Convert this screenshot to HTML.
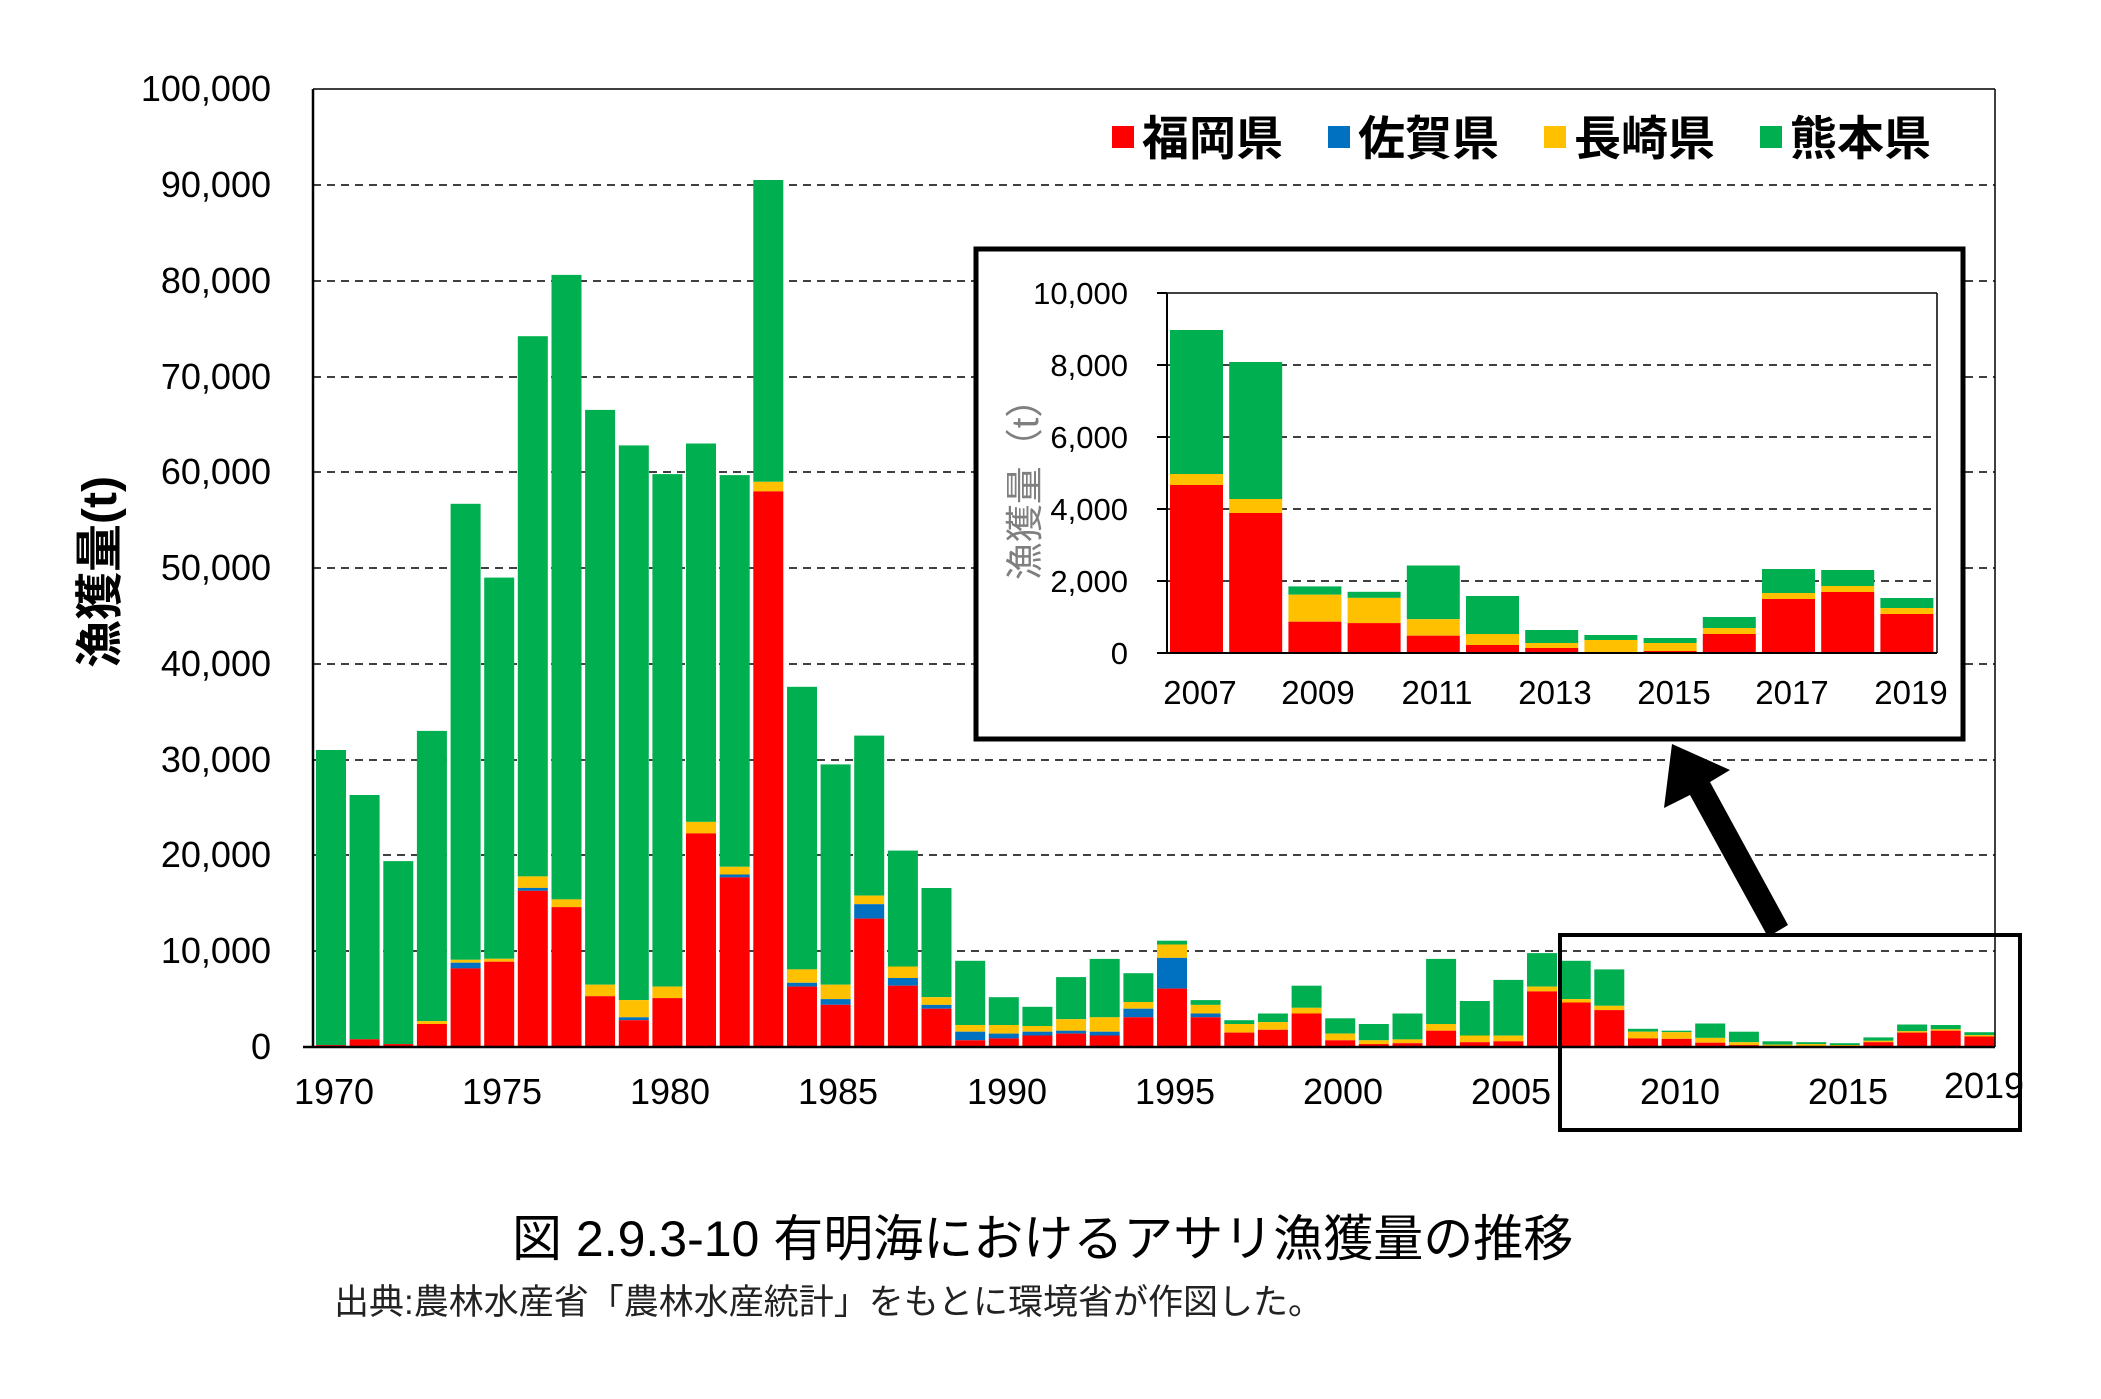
<!DOCTYPE html>
<html><head><meta charset="utf-8"><style>
html,body{margin:0;padding:0;background:#fff;}
svg{display:block;}
text{font-family:"Liberation Sans","Noto Sans CJK JP",sans-serif;fill:#000;}
.r{fill:#ff0000}.b{fill:#0070c0}.y{fill:#ffc000}.g{fill:#00b050}
</style></head><body>
<svg width="2101" height="1399" viewBox="0 0 2101 1399" xmlns="http://www.w3.org/2000/svg">
<rect width="2101" height="1399" fill="#fff"/>
<g stroke="#000" stroke-width="1.5" stroke-dasharray="8,6">
<line x1="313" x2="1995" y1="185" y2="185"/><line x1="313" x2="1995" y1="281" y2="281"/>
<line x1="313" x2="1995" y1="377" y2="377"/><line x1="313" x2="1995" y1="472" y2="472"/>
<line x1="313" x2="1995" y1="568" y2="568"/><line x1="313" x2="1995" y1="664" y2="664"/>
<line x1="313" x2="1995" y1="760" y2="760"/><line x1="313" x2="1995" y1="855" y2="855"/>
<line x1="313" x2="1995" y1="951" y2="951"/>
</g>
<g>
<rect class="g" x="316" y="750" width="30" height="295.1"/><rect class="r" x="316" y="1045.1" width="30" height="1.9"/>
<rect class="g" x="349.6" y="795" width="30" height="244.3"/><rect class="r" x="349.6" y="1039.3" width="30" height="7.7"/>
<rect class="g" x="383.3" y="861.1" width="30" height="183"/><rect class="r" x="383.3" y="1044.1" width="30" height="2.9"/>
<rect class="g" x="416.9" y="730.9" width="30" height="290.2"/><rect class="y" x="416.9" y="1021.1" width="30" height="2.9"/><rect class="r" x="416.9" y="1024" width="30" height="23"/>
<rect class="g" x="450.6" y="503.8" width="30" height="456"/><rect class="y" x="450.6" y="959.8" width="30" height="2.9"/><rect class="b" x="450.6" y="962.7" width="30" height="5.7"/><rect class="r" x="450.6" y="968.4" width="30" height="78.6"/>
<rect class="g" x="484.2" y="577.6" width="30" height="381.2"/><rect class="y" x="484.2" y="958.8" width="30" height="2.9"/><rect class="r" x="484.2" y="961.7" width="30" height="85.3"/>
<rect class="g" x="517.8" y="336.2" width="30" height="540.2"/><rect class="y" x="517.8" y="876.4" width="30" height="11.5"/><rect class="b" x="517.8" y="887.9" width="30" height="2.9"/><rect class="r" x="517.8" y="890.8" width="30" height="156.2"/>
<rect class="g" x="551.5" y="274.9" width="30" height="624.5"/><rect class="y" x="551.5" y="899.4" width="30" height="7.7"/><rect class="r" x="551.5" y="907.1" width="30" height="139.9"/>
<rect class="g" x="585.1" y="409.9" width="30" height="574.8"/><rect class="y" x="585.1" y="984.7" width="30" height="11.5"/><rect class="r" x="585.1" y="996.2" width="30" height="50.8"/>
<rect class="g" x="618.8" y="445.4" width="30" height="554.7"/><rect class="y" x="618.8" y="1000.1" width="30" height="17.2"/><rect class="b" x="618.8" y="1017.3" width="30" height="2.9"/><rect class="r" x="618.8" y="1020.2" width="30" height="26.8"/>
<rect class="g" x="652.4" y="474.1" width="30" height="512.5"/><rect class="y" x="652.4" y="986.6" width="30" height="11.5"/><rect class="r" x="652.4" y="998.1" width="30" height="48.9"/>
<rect class="g" x="686" y="443.5" width="30" height="378.4"/><rect class="y" x="686" y="821.9" width="30" height="11.5"/><rect class="r" x="686" y="833.4" width="30" height="213.6"/>
<rect class="g" x="719.7" y="475.1" width="30" height="391.7"/><rect class="y" x="719.7" y="866.8" width="30" height="7.7"/><rect class="b" x="719.7" y="874.5" width="30" height="2.9"/><rect class="r" x="719.7" y="877.4" width="30" height="169.6"/>
<rect class="g" x="753.3" y="180" width="30" height="301.8"/><rect class="y" x="753.3" y="481.8" width="30" height="9.6"/><rect class="r" x="753.3" y="491.4" width="30" height="555.6"/>
<rect class="g" x="787" y="686.8" width="30" height="282.6"/><rect class="y" x="787" y="969.4" width="30" height="13.4"/><rect class="b" x="787" y="982.8" width="30" height="3.8"/><rect class="r" x="787" y="986.6" width="30" height="60.4"/>
<rect class="g" x="820.6" y="764.4" width="30" height="220.3"/><rect class="y" x="820.6" y="984.7" width="30" height="14.4"/><rect class="b" x="820.6" y="999.1" width="30" height="5.7"/><rect class="r" x="820.6" y="1004.8" width="30" height="42.2"/>
<rect class="g" x="854.2" y="735.6" width="30" height="160"/><rect class="y" x="854.2" y="895.6" width="30" height="8.6"/><rect class="b" x="854.2" y="904.2" width="30" height="14.4"/><rect class="r" x="854.2" y="918.6" width="30" height="128.4"/>
<rect class="g" x="887.9" y="850.6" width="30" height="115.9"/><rect class="y" x="887.9" y="966.5" width="30" height="11.5"/><rect class="b" x="887.9" y="978" width="30" height="7.7"/><rect class="r" x="887.9" y="985.7" width="30" height="61.3"/>
<rect class="g" x="921.5" y="888" width="30" height="109.2"/><rect class="y" x="921.5" y="997.2" width="30" height="7.7"/><rect class="b" x="921.5" y="1004.9" width="30" height="3.8"/><rect class="r" x="921.5" y="1008.7" width="30" height="38.3"/>
<rect class="g" x="955.2" y="960.8" width="30" height="64.2"/><rect class="y" x="955.2" y="1025" width="30" height="6.7"/><rect class="b" x="955.2" y="1031.7" width="30" height="8.6"/><rect class="r" x="955.2" y="1040.3" width="30" height="6.7"/>
<rect class="g" x="988.8" y="997.2" width="30" height="27.8"/><rect class="y" x="988.8" y="1025" width="30" height="8.6"/><rect class="b" x="988.8" y="1033.6" width="30" height="4.8"/><rect class="r" x="988.8" y="1038.4" width="30" height="8.6"/>
<rect class="g" x="1022.4" y="1006.8" width="30" height="19.2"/><rect class="y" x="1022.4" y="1026" width="30" height="5.7"/><rect class="b" x="1022.4" y="1031.7" width="30" height="3.8"/><rect class="r" x="1022.4" y="1035.5" width="30" height="11.5"/>
<rect class="g" x="1056.1" y="977.1" width="30" height="42.1"/><rect class="y" x="1056.1" y="1019.2" width="30" height="11.5"/><rect class="b" x="1056.1" y="1030.7" width="30" height="2.9"/><rect class="r" x="1056.1" y="1033.6" width="30" height="13.4"/>
<rect class="g" x="1089.7" y="958.9" width="30" height="58.4"/><rect class="y" x="1089.7" y="1017.3" width="30" height="14.4"/><rect class="b" x="1089.7" y="1031.7" width="30" height="3.8"/><rect class="r" x="1089.7" y="1035.5" width="30" height="11.5"/>
<rect class="g" x="1123.4" y="973.2" width="30" height="28.8"/><rect class="y" x="1123.4" y="1002" width="30" height="6.7"/><rect class="b" x="1123.4" y="1008.7" width="30" height="8.6"/><rect class="r" x="1123.4" y="1017.3" width="30" height="29.7"/>
<rect class="g" x="1157" y="940.7" width="30" height="3.8"/><rect class="y" x="1157" y="944.5" width="30" height="13.4"/><rect class="b" x="1157" y="957.9" width="30" height="30.7"/><rect class="r" x="1157" y="988.6" width="30" height="58.4"/>
<rect class="g" x="1190.6" y="1000.1" width="30" height="4.8"/><rect class="y" x="1190.6" y="1004.9" width="30" height="8.6"/><rect class="b" x="1190.6" y="1013.5" width="30" height="3.8"/><rect class="r" x="1190.6" y="1017.3" width="30" height="29.7"/>
<rect class="g" x="1224.3" y="1020.2" width="30" height="3.8"/><rect class="y" x="1224.3" y="1024" width="30" height="8.6"/><rect class="r" x="1224.3" y="1032.6" width="30" height="14.4"/>
<rect class="g" x="1257.9" y="1013.5" width="30" height="8.6"/><rect class="y" x="1257.9" y="1022.1" width="30" height="7.7"/><rect class="r" x="1257.9" y="1029.8" width="30" height="17.2"/>
<rect class="g" x="1291.6" y="985.7" width="30" height="22.1"/><rect class="y" x="1291.6" y="1007.8" width="30" height="5.7"/><rect class="r" x="1291.6" y="1013.5" width="30" height="33.5"/>
<rect class="g" x="1325.2" y="1018.3" width="30" height="15.3"/><rect class="y" x="1325.2" y="1033.6" width="30" height="6.7"/><rect class="r" x="1325.2" y="1040.3" width="30" height="6.7"/>
<rect class="g" x="1358.8" y="1024" width="30" height="16.3"/><rect class="y" x="1358.8" y="1040.3" width="30" height="3.8"/><rect class="r" x="1358.8" y="1044.1" width="30" height="2.9"/>
<rect class="g" x="1392.5" y="1013.5" width="30" height="25.9"/><rect class="y" x="1392.5" y="1039.4" width="30" height="3.8"/><rect class="r" x="1392.5" y="1043.2" width="30" height="3.8"/>
<rect class="g" x="1426.1" y="958.9" width="30" height="65.1"/><rect class="y" x="1426.1" y="1024" width="30" height="6.7"/><rect class="r" x="1426.1" y="1030.7" width="30" height="16.3"/>
<rect class="g" x="1459.8" y="1001" width="30" height="34.5"/><rect class="y" x="1459.8" y="1035.5" width="30" height="6.7"/><rect class="r" x="1459.8" y="1042.2" width="30" height="4.8"/>
<rect class="g" x="1493.4" y="979.9" width="30" height="55.7"/><rect class="y" x="1493.4" y="1035.6" width="30" height="5.7"/><rect class="r" x="1493.4" y="1041.3" width="30" height="5.7"/>
<rect class="g" x="1527" y="953.1" width="30" height="33.5"/><rect class="y" x="1527" y="986.6" width="30" height="4.8"/><rect class="r" x="1527" y="991.4" width="30" height="55.6"/>
<rect class="g" x="1560.7" y="960.8" width="30" height="38.3"/><rect class="y" x="1560.7" y="999.1" width="30" height="3.4"/><rect class="r" x="1560.7" y="1002.5" width="30" height="44.5"/>
<rect class="g" x="1594.3" y="969.4" width="30" height="36.4"/><rect class="y" x="1594.3" y="1005.8" width="30" height="4.3"/><rect class="r" x="1594.3" y="1010.1" width="30" height="36.9"/>
<rect class="g" x="1628" y="1028.8" width="30" height="2.9"/><rect class="y" x="1628" y="1031.7" width="30" height="6.7"/><rect class="r" x="1628" y="1038.4" width="30" height="8.6"/>
<rect class="g" x="1661.6" y="1030.7" width="30" height="1.5"/><rect class="y" x="1661.6" y="1032.2" width="30" height="6.7"/><rect class="r" x="1661.6" y="1038.9" width="30" height="8.1"/>
<rect class="g" x="1695.2" y="1023.5" width="30" height="14.4"/><rect class="y" x="1695.2" y="1037.9" width="30" height="4.8"/><rect class="r" x="1695.2" y="1042.7" width="30" height="4.3"/>
<rect class="g" x="1728.9" y="1031.7" width="30" height="10.5"/><rect class="y" x="1728.9" y="1042.2" width="30" height="2.9"/><rect class="r" x="1728.9" y="1045.1" width="30" height="1.9"/>
<rect class="g" x="1762.5" y="1041.3" width="30" height="3.3"/><rect class="y" x="1762.5" y="1044.6" width="30" height="1.4"/><rect class="r" x="1762.5" y="1046" width="30" height="1"/>
<rect class="g" x="1796.2" y="1042.2" width="30" height="1.9"/><rect class="y" x="1796.2" y="1044.1" width="30" height="2.9"/>
<rect class="g" x="1829.8" y="1043.2" width="30" height="1.8"/><rect class="y" x="1829.8" y="1045" width="30" height="2"/>
<rect class="g" x="1863.4" y="1037.4" width="30" height="3.4"/><rect class="y" x="1863.4" y="1040.8" width="30" height="1.4"/><rect class="r" x="1863.4" y="1042.2" width="30" height="4.8"/>
<rect class="g" x="1897.1" y="1024.5" width="30" height="6.7"/><rect class="y" x="1897.1" y="1031.2" width="30" height="1.4"/><rect class="r" x="1897.1" y="1032.6" width="30" height="14.4"/>
<rect class="g" x="1930.7" y="1025" width="30" height="4.3"/><rect class="y" x="1930.7" y="1029.3" width="30" height="1.4"/><rect class="r" x="1930.7" y="1030.7" width="30" height="16.3"/>
<rect class="g" x="1964.4" y="1032.2" width="30" height="2.9"/><rect class="y" x="1964.4" y="1035.1" width="30" height="1.4"/><rect class="r" x="1964.4" y="1036.5" width="30" height="10.5"/>
</g>
<line x1="313" x2="1995" y1="89" y2="89" stroke="#000" stroke-width="1.5"/>
<line x1="1995" x2="1995" y1="89" y2="1047" stroke="#000" stroke-width="1.5"/>
<line x1="313" x2="313" y1="89" y2="1048" stroke="#000" stroke-width="2.5"/>
<line x1="303" x2="1995" y1="1047" y2="1047" stroke="#000" stroke-width="2.5"/>
<g font-size="36" text-anchor="end">
<text x="271" y="101">100,000</text><text x="271" y="197">90,000</text><text x="271" y="293">80,000</text>
<text x="271" y="389">70,000</text><text x="271" y="484">60,000</text><text x="271" y="580">50,000</text>
<text x="271" y="676">40,000</text><text x="271" y="772">30,000</text><text x="271" y="867">20,000</text>
<text x="271" y="963">10,000</text><text x="271" y="1059">0</text>
</g>
<g font-size="36" text-anchor="middle">
<text x="334" y="1104">1970</text><text x="502" y="1104">1975</text><text x="670" y="1104">1980</text>
<text x="838" y="1104">1985</text><text x="1007" y="1104">1990</text><text x="1175" y="1104">1995</text>
<text x="1343" y="1104">2000</text><text x="1511" y="1104">2005</text><text x="1680" y="1104">2010</text>
<text x="1848" y="1104">2015</text><text x="1984" y="1098">2019</text>
</g>
<text transform="translate(116,572) rotate(-90)" font-size="48" font-weight="bold" text-anchor="middle">漁獲量(t)</text>
<g font-size="47" font-weight="bold">
<rect x="1112" y="126" width="22" height="22" class="r"/><text x="1142" y="155">福岡県</text>
<rect x="1328" y="126" width="22" height="22" class="b"/><text x="1358" y="155">佐賀県</text>
<rect x="1544" y="126" width="22" height="22" class="y"/><text x="1574" y="155">長崎県</text>
<rect x="1760" y="126" width="22" height="22" class="g"/><text x="1790" y="155">熊本県</text>
</g>
<!-- inset -->
<rect x="976" y="249" width="987" height="490" fill="#fff" stroke="#000" stroke-width="5"/>
<g stroke="#000" stroke-width="1.5" stroke-dasharray="8,6">
<line x1="1167" x2="1937" y1="365" y2="365"/><line x1="1167" x2="1937" y1="437" y2="437"/>
<line x1="1167" x2="1937" y1="509" y2="509"/><line x1="1167" x2="1937" y1="581" y2="581"/>
</g>
<g>
<rect class="g" x="1170" y="330" width="53" height="144"/><rect class="y" x="1170" y="474" width="53" height="11"/><rect class="r" x="1170" y="485" width="53" height="168"/>
<rect class="g" x="1229.2" y="362" width="53" height="137"/><rect class="y" x="1229.2" y="499" width="53" height="14"/><rect class="r" x="1229.2" y="513" width="53" height="140"/>
<rect class="g" x="1288.4" y="586.4" width="53" height="8.3"/><rect class="y" x="1288.4" y="594.7" width="53" height="27"/><rect class="r" x="1288.4" y="621.7" width="53" height="31.3"/>
<rect class="g" x="1347.6" y="591.8" width="53" height="6.1"/><rect class="y" x="1347.6" y="597.9" width="53" height="25.2"/><rect class="r" x="1347.6" y="623.1" width="53" height="29.9"/>
<rect class="g" x="1406.8" y="565.5" width="53" height="53.7"/><rect class="y" x="1406.8" y="619.2" width="53" height="16.5"/><rect class="r" x="1406.8" y="635.7" width="53" height="17.3"/>
<rect class="g" x="1466" y="596" width="53" height="38"/><rect class="y" x="1466" y="634" width="53" height="11"/><rect class="r" x="1466" y="645" width="53" height="8"/>
<rect class="g" x="1525.2" y="630" width="53" height="13"/><rect class="y" x="1525.2" y="643" width="53" height="5"/><rect class="r" x="1525.2" y="648" width="53" height="5"/>
<rect class="g" x="1584.4" y="635" width="53" height="5"/><rect class="y" x="1584.4" y="640" width="53" height="13"/>
<rect class="g" x="1643.6" y="638" width="53" height="5"/><rect class="y" x="1643.6" y="643" width="53" height="8"/><rect class="r" x="1643.6" y="651" width="53" height="2"/>
<rect class="g" x="1702.8" y="617" width="53" height="11"/><rect class="y" x="1702.8" y="628" width="53" height="6"/><rect class="r" x="1702.8" y="634" width="53" height="19"/>
<rect class="g" x="1762" y="569" width="53" height="24"/><rect class="y" x="1762" y="593" width="53" height="6"/><rect class="r" x="1762" y="599" width="53" height="54"/>
<rect class="g" x="1821.2" y="570" width="53" height="16"/><rect class="y" x="1821.2" y="586" width="53" height="6"/><rect class="r" x="1821.2" y="592" width="53" height="61"/>
<rect class="g" x="1880.4" y="598" width="53" height="10"/><rect class="y" x="1880.4" y="608" width="53" height="6"/><rect class="r" x="1880.4" y="614" width="53" height="39"/>
</g>
<line x1="1167" x2="1937" y1="293" y2="293" stroke="#000" stroke-width="1.5"/>
<line x1="1937" x2="1937" y1="293" y2="653" stroke="#000" stroke-width="1.5"/>
<line x1="1167" x2="1167" y1="293" y2="654" stroke="#000" stroke-width="2"/>
<line x1="1157" x2="1937" y1="653" y2="653" stroke="#000" stroke-width="2"/>
<g stroke="#000" stroke-width="2"><line x1="1157" x2="1167" y1="293" y2="293"/><line x1="1157" x2="1167" y1="365" y2="365"/><line x1="1157" x2="1167" y1="437" y2="437"/><line x1="1157" x2="1167" y1="509" y2="509"/><line x1="1157" x2="1167" y1="581" y2="581"/></g>
<g font-size="31" text-anchor="end">
<text x="1128" y="304">10,000</text><text x="1128" y="376">8,000</text><text x="1128" y="448">6,000</text>
<text x="1128" y="520">4,000</text><text x="1128" y="592">2,000</text><text x="1128" y="664">0</text>
</g>
<g font-size="33" text-anchor="middle">
<text x="1200" y="704">2007</text><text x="1318" y="704">2009</text><text x="1437" y="704">2011</text>
<text x="1555" y="704">2013</text><text x="1674" y="704">2015</text><text x="1792" y="704">2017</text><text x="1911" y="704">2019</text>
</g>
<text transform="translate(1038,480) rotate(-90)" font-size="38" style="fill:#7f7f7f" text-anchor="middle">漁獲量（t）</text>
<!-- small box & arrow -->
<rect x="1560" y="935" width="460" height="195" fill="none" stroke="#000" stroke-width="4"/>
<polygon points="1672,744 1730,770 1710,782 1788,925 1768,937 1690,795 1664,808" fill="#000"/>
<text x="512" y="1256" font-size="50">図 2.9.3-10 有明海におけるアサリ漁獲量の推移</text>
<text x="334" y="1314" font-size="35" style="fill:#222">出典:農林水産省「農林水産統計」をもとに環境省が作図した。</text>
</svg>
</body></html>
